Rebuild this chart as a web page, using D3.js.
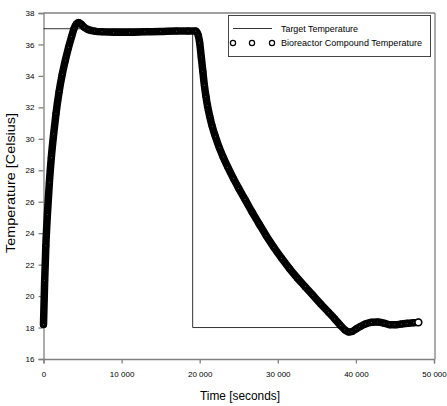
<!DOCTYPE html>
<html>
<head>
<meta charset="utf-8">
<script src="https://cdn.jsdelivr.net/npm/d3@7"></script>
<style>
  body { margin: 0; background: #fff; }
  svg { display: block; font-family: "Liberation Sans", Arial, sans-serif; }
</style>
</head>
<body>
<svg id="chart" width="447" height="406"></svg>
<script>
// Time [s] and temperature [C]
var timeValues = [0, 150, 300, 500, 750, 1000, 1300, 1600, 2000, 2400, 2800, 3200, 3600, 3900,
  4200, 4500, 4800, 5200, 5700, 6500, 7500, 9000, 11000, 13000, 15000, 17000, 18500, 19500,
  19800, 20000, 20200, 20400, 20600, 20800, 21000, 21300, 21600, 22000, 22500, 23000, 23600,
  24300, 25000, 25800, 26700, 27600, 28500, 29500, 30500, 31500, 32500, 33500, 34500, 35500,
  36500, 37300, 38000, 38600, 39100, 39500, 40000, 40500, 41200, 42000, 42800, 43600, 44300,
  45000, 45800, 46600, 47400, 48000];
var tempValues = [18.2, 21.0, 23.2, 25.2, 27.2, 28.8, 30.3, 31.6, 33.0, 34.1, 35.0, 35.8, 36.5, 37.0,
  37.3, 37.4, 37.3, 37.1, 36.95, 36.85, 36.8, 36.78, 36.78, 36.8, 36.82, 36.85, 36.85, 36.85,
  36.6, 36.1, 35.2, 34.3, 33.4, 32.7, 32.1, 31.4, 30.8, 30.15, 29.45, 28.85, 28.2,
  27.5, 26.85, 26.15, 25.35, 24.6, 23.85, 23.1, 22.4, 21.75, 21.15, 20.6, 20.05, 19.5,
  18.97, 18.55, 18.15, 17.85, 17.72, 17.75, 17.9, 18.05, 18.22, 18.33, 18.35, 18.28, 18.18,
  18.17, 18.22, 18.27, 18.3, 18.33];

// Target temperature (step profile)
var targetTime = [0, 19100, 19100, 38300];
var targetTemp = [37, 37, 18, 18];

var xTicks = [0, 10000, 20000, 30000, 40000, 50000];
var yTicks = [16, 18, 20, 22, 24, 26, 28, 30, 32, 34, 36, 38];
var legendLabels = ['Target Temperature', 'Bioreactor Compound Temperature'];

var svg = d3.select('#chart');

var x = d3.scaleLinear().domain([0, 50000]).range([43.5, 434]);
var y = d3.scaleLinear().domain([16, 38]).range([359, 13]);

var axisColor = '#808080';

// frame on top and right
svg.append('line')
  .attr('x1', 43.5).attr('x2', 435).attr('y1', 13).attr('y2', 13)
  .attr('stroke', axisColor).attr('stroke-width', 1.3);
svg.append('line')
  .attr('x1', 435).attr('x2', 435).attr('y1', 13).attr('y2', 359)
  .attr('stroke', axisColor).attr('stroke-width', 1.3);

// x axis: major + minor ticks
var xAxis = svg.append('g').attr('transform', 'translate(0,359)');
xAxis.call(d3.axisBottom(x).tickValues(d3.range(0, 50001, 5000)).tickSize(2.5).tickFormat(''));
xAxis.call(d3.axisBottom(x).tickValues(xTicks).tickSize(4.5).tickPadding(8)
  .tickFormat(function (d) { return d === 0 ? '0' : d3.format(',')(d).replace(',', ' '); }));
xAxis.selectAll('path, line').attr('stroke', axisColor).attr('stroke-width', 1.3);
xAxis.selectAll('text').attr('font-size', 8).attr('fill', '#000')
  .attr('font-family', '"Liberation Sans", Arial, sans-serif');

// y axis
var yAxis = svg.append('g').attr('transform', 'translate(43.5,0)');
yAxis.call(d3.axisLeft(y).tickValues(d3.range(16, 38.1, 1)).tickSize(2.5).tickFormat(''));
yAxis.call(d3.axisLeft(y).tickValues(yTicks).tickSize(5).tickPadding(4));
yAxis.selectAll('path, line').attr('stroke', axisColor).attr('stroke-width', 1.3);
yAxis.selectAll('text').attr('font-size', 8).attr('fill', '#000')
  .attr('font-family', '"Liberation Sans", Arial, sans-serif');

// axis titles
svg.append('text')
  .attr('x', 240).attr('y', 400)
  .attr('text-anchor', 'middle')
  .attr('font-size', 12)
  .attr('textLength', 80).attr('lengthAdjust', 'spacingAndGlyphs')
  .text('Time [seconds]');
svg.append('text')
  .attr('transform', 'translate(14.5,183) rotate(-90)')
  .attr('text-anchor', 'middle')
  .attr('font-size', 12)
  .attr('textLength', 140).attr('lengthAdjust', 'spacingAndGlyphs')
  .text('Temperature [Celsius]');

// target temperature line
var targetData = targetTime.map(function (t, i) { return {t: t, v: targetTemp[i]}; });
svg.append('path')
  .datum(targetData)
  .attr('fill', 'none')
  .attr('stroke', '#333')
  .attr('stroke-width', 1)
  .attr('d', d3.line().x(function (d) { return x(d.t); }).y(function (d) { return y(d.v); }));

// bioreactor temperature: dense open circles -> drawn as a thick band plus markers
var tempData = timeValues.map(function (t, i) { return {t: t, v: tempValues[i]}; });
svg.append('path')
  .datum(tempData)
  .attr('fill', 'none')
  .attr('stroke', '#000')
  .attr('stroke-width', 7.5)
  .attr('stroke-linejoin', 'round')
  .attr('stroke-linecap', 'round')
  .attr('d', d3.line().curve(d3.curveMonotoneX)
    .x(function (d) { return x(d.t); }).y(function (d) { return y(d.v); }));

var last = tempData.length - 1;
svg.selectAll('.marker')
  .data(tempData)
  .enter()
  .append('circle')
  .attr('class', 'marker')
  .attr('cx', function (d) { return x(d.t); })
  .attr('cy', function (d) { return y(d.v); })
  .attr('r', function (d, i) { return i === last ? 3.4 : 1.9; })
  .attr('fill', '#fff')
  .attr('stroke', '#000')
  .attr('stroke-width', function (d, i) { return i === last ? 1.6 : 3.2; });

// legend
var legend = svg.append('g');
legend.append('rect')
  .attr('x', 228.5).attr('y', 15.5).attr('width', 202).attr('height', 41)
  .attr('fill', '#fff').attr('stroke', '#444').attr('stroke-width', 1);
legend.append('line')
  .attr('x1', 233).attr('x2', 272).attr('y1', 28.5).attr('y2', 28.5)
  .attr('stroke', '#333').attr('stroke-width', 1);
legend.selectAll('.legmark')
  .data([233, 252, 272])
  .enter()
  .append('circle')
  .attr('class', 'legmark')
  .attr('cx', function (d) { return d; })
  .attr('cy', 43)
  .attr('r', 2.6)
  .attr('fill', '#fff')
  .attr('stroke', '#000')
  .attr('stroke-width', 1.2);
legend.selectAll('.legtext')
  .data(legendLabels)
  .enter()
  .append('text')
  .attr('class', 'legtext')
  .attr('x', 281)
  .attr('y', function (d, i) { return i === 0 ? 31.5 : 46; })
  .attr('font-size', 8.5)
  .attr('textLength', function (d, i) { return i === 0 ? 77 : 141; })
  .attr('lengthAdjust', 'spacingAndGlyphs')
  .text(function (d) { return d; });
</script>
</body>
</html>
